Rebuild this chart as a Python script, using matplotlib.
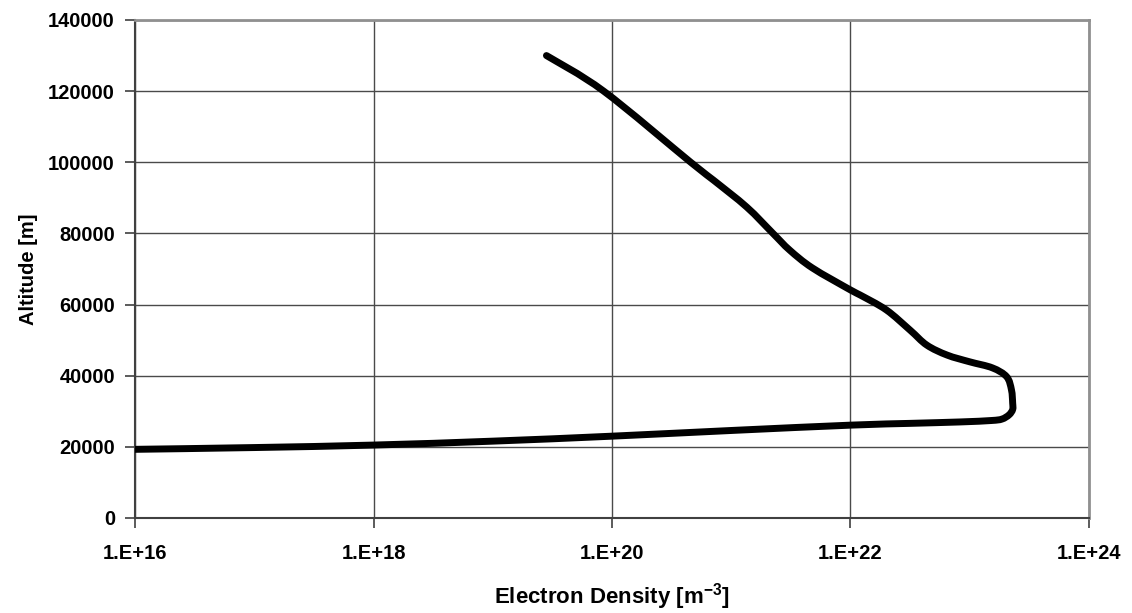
import math
import numpy as np
import matplotlib
matplotlib.use("Agg")
import matplotlib.pyplot as plt
from matplotlib.path import Path
from matplotlib.patches import PathPatch
from matplotlib.ticker import FixedLocator, FuncFormatter

plt.rcParams['font.family'] = ['Liberation Sans', 'DejaVu Sans']
plt.rcParams['font.weight'] = 'bold'
plt.rcParams['mathtext.fontset'] = 'custom'
plt.rcParams['mathtext.rm'] = 'Liberation Sans:bold'
plt.rcParams['mathtext.bf'] = 'Liberation Sans:bold'
plt.rcParams['mathtext.default'] = 'bf'

# Electron density [m^-3] (log10 values) vs altitude [m]
log_density = [16.00, 17.00, 18.00, 19.00, 20.00, 21.00, 22.00, 22.50, 22.92, 23.18,
               23.27, 23.33, 23.36, 23.36, 23.35, 23.31, 23.19, 23.00, 22.81, 22.64,
               22.50, 22.30, 22.08, 22.00, 21.68, 21.49, 21.35, 21.13, 20.85, 20.66,
               19.93, 19.45]
altitude = [19300, 19800, 20500, 21600, 23000, 24600, 26100, 26600, 27000, 27400,
            27800, 29000, 30500, 32300, 36000, 39700, 42200, 43900, 45800, 48600,
            52800, 58500, 62700, 64100, 70300, 75300, 80000, 87400, 95000, 100000,
            120000, 130000]

density = [10 ** v for v in log_density]

x_ticks = [1e16, 1e18, 1e20, 1e22, 1e24]
y_ticks = [0, 20000, 40000, 60000, 80000, 100000, 120000, 140000]

fig = plt.figure(figsize=(11.32, 6.13), dpi=100)
ax = fig.add_axes([0.1193, 0.155, 0.8427, 0.8124])

ax.set_xscale('log')
ax.set_xlim(1e16, 1e24)
ax.set_ylim(0, 140000)

ax.xaxis.set_major_locator(FixedLocator(x_ticks))
ax.xaxis.set_minor_locator(FixedLocator([]))
ax.yaxis.set_major_locator(FixedLocator(y_ticks))
ax.xaxis.set_major_formatter(FuncFormatter(lambda v, p: "1.E+%d" % round(math.log10(v))))
ax.yaxis.set_major_formatter(FuncFormatter(lambda v, p: "%d" % v))

ax.grid(True, which='major', color='#4a4a4a', linewidth=1.0)
ax.set_axisbelow(True)

# Smoothed line (like a spreadsheet "smoothed line"): cubic Bezier segments
# through the data points, control points from Catmull-Rom tangents in the
# (log10 density, altitude) space, which is affine to the display.
P = np.column_stack([np.log10(density), altitude]).astype(float)
n = len(P)
verts = [P[0]]
codes = [Path.MOVETO]
for i in range(n - 1):
    p0 = P[i - 1] if i > 0 else P[i]
    p1 = P[i]
    p2 = P[i + 1]
    p3 = P[i + 2] if i + 2 < n else P[i + 1]
    c1 = p1 + (p2 - p0) / 6.0
    c2 = p2 - (p3 - p1) / 6.0
    verts += [c1, c2, p2]
    codes += [Path.CURVE4] * 3
verts = np.array(verts)
verts[:, 0] = 10 ** verts[:, 0]
smooth = PathPatch(Path(verts, codes), facecolor='none', edgecolor='black',
                   linewidth=5.0, capstyle='round', joinstyle='round',
                   transform=ax.transData, zorder=3)
ax.add_patch(smooth)

for side in ['top', 'right']:
    ax.spines[side].set_color('#909090')
    ax.spines[side].set_linewidth(2.0)
for side in ['left', 'bottom']:
    ax.spines[side].set_color('#404040')
    ax.spines[side].set_linewidth(1.5)

ax.tick_params(axis='both', direction='out', length=7, width=1.2, color='#404040',
               labelsize=14.5)
ax.tick_params(axis='y', pad=7.5)
ax.tick_params(axis='x', pad=12)
for lbl in ax.get_xticklabels() + ax.get_yticklabels():
    lbl.set_fontweight('bold')

ax.set_xlabel(r'Electron Density [m$^{-3}$]', fontsize=16, fontweight='bold', labelpad=13)
ax.set_ylabel('Altitude [m]', fontsize=14.5, fontweight='bold', labelpad=7)

fig.savefig('out.png', dpi=100)
